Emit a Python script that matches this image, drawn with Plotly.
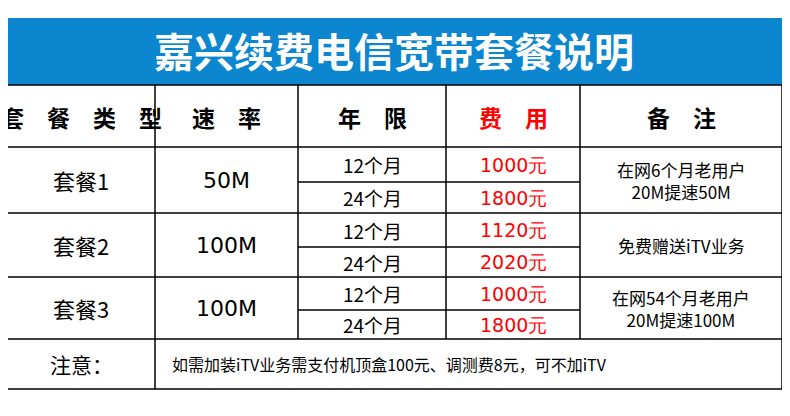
import plotly.graph_objects as go

title = "嘉兴续费电信宽带套餐说明"
headers = ["套　餐　类　型", "速　率", "年　限", "费　用", "备　注"]
plans = ["套餐1", "套餐2", "套餐3"]
speeds = ["50M", "100M", "100M"]
terms = ["12个月", "24个月", "12个月", "24个月", "12个月", "24个月"]
prices = ["1000元", "1800元", "1120元", "2020元", "1000元", "1800元"]
remarks = ["在网6个月老用户<br>20M提速50M", "免费赠送iTV业务", "在网54个月老用户<br>20M提速100M"]
note_label = "注意："
note_text = "如需加装iTV业务需支付机顶盒100元、调测费8元，可不加iTV"

F = "Noto Sans CJK SC"
cols = [7, 155, 298, 446, 580, 782]
rows = [147, 213, 277, 339]
subs = [182, 247, 310]
fig = go.Figure()
shapes = []
ann = []
def line(x0, y0, x1, y1, w=1.5):
    shapes.append(dict(type="line", x0=x0, y0=y0, x1=x1, y1=y1, xref="x", yref="y",
                       line=dict(color="black", width=w)))
def txt(x, y, t, size, color="black", bold=False, xanchor="center", fam=F):
    ann.append(dict(x=x, y=y, text=f"<b>{t}</b>" if bold else t, showarrow=False, xref="x", yref="y",
                    xanchor=xanchor, yanchor="middle", font=dict(family=fam, size=size, color=color)))

shapes.append(dict(type="rect", x0=7, y0=18, x1=782, y1=85, xref="x", yref="y",
                   fillcolor="#0b86cf", line=dict(width=0)))
txt(394, 50, title, 40, "white", True)
for y in [85, 147, 213, 277, 339, 389]:
    line(7, y, 782, y)
for x in [7, 782]:
    line(x, 85, x, 389)
for x in cols[1:5]:
    line(x, 85, x, 339)
line(155, 339, 155, 389)
for y in subs:
    line(298, y, 580, y)
cx = [(cols[i] + cols[i+1]) / 2 for i in range(5)]
for i, h in enumerate(headers):
    txt(cx[i], 117, h, 23, "red" if i == 3 else "black", True)
for i in range(3):
    yc = (rows[i] + rows[i+1]) / 2
    txt(cx[0], yc, plans[i], 22)
    txt(cx[1], yc, speeds[i], 22, fam="DejaVu Sans")
    txt(cx[4], yc, remarks[i], 17)
    tops = [rows[i], subs[i], rows[i+1]]
    for k in range(2):
        ys = (tops[k] + tops[k+1]) / 2
        txt(cx[2], ys, terms[2*i+k], 19)
        txt(cx[3], ys, prices[2*i+k], 19, "red", fam="DejaVu Sans")
txt(cx[0], 364, note_label, 21)
txt(170, 364, note_text, 16, xanchor="left")

fig.update_layout(width=790, height=416, margin=dict(l=0, r=0, t=0, b=0),
                  plot_bgcolor="white", paper_bgcolor="white", shapes=shapes, annotations=ann,
                  xaxis=dict(range=[8, 798], visible=False, fixedrange=True),
                  yaxis=dict(range=[424, 8], visible=False, fixedrange=True), showlegend=False)
fig.write_html("out.html")
